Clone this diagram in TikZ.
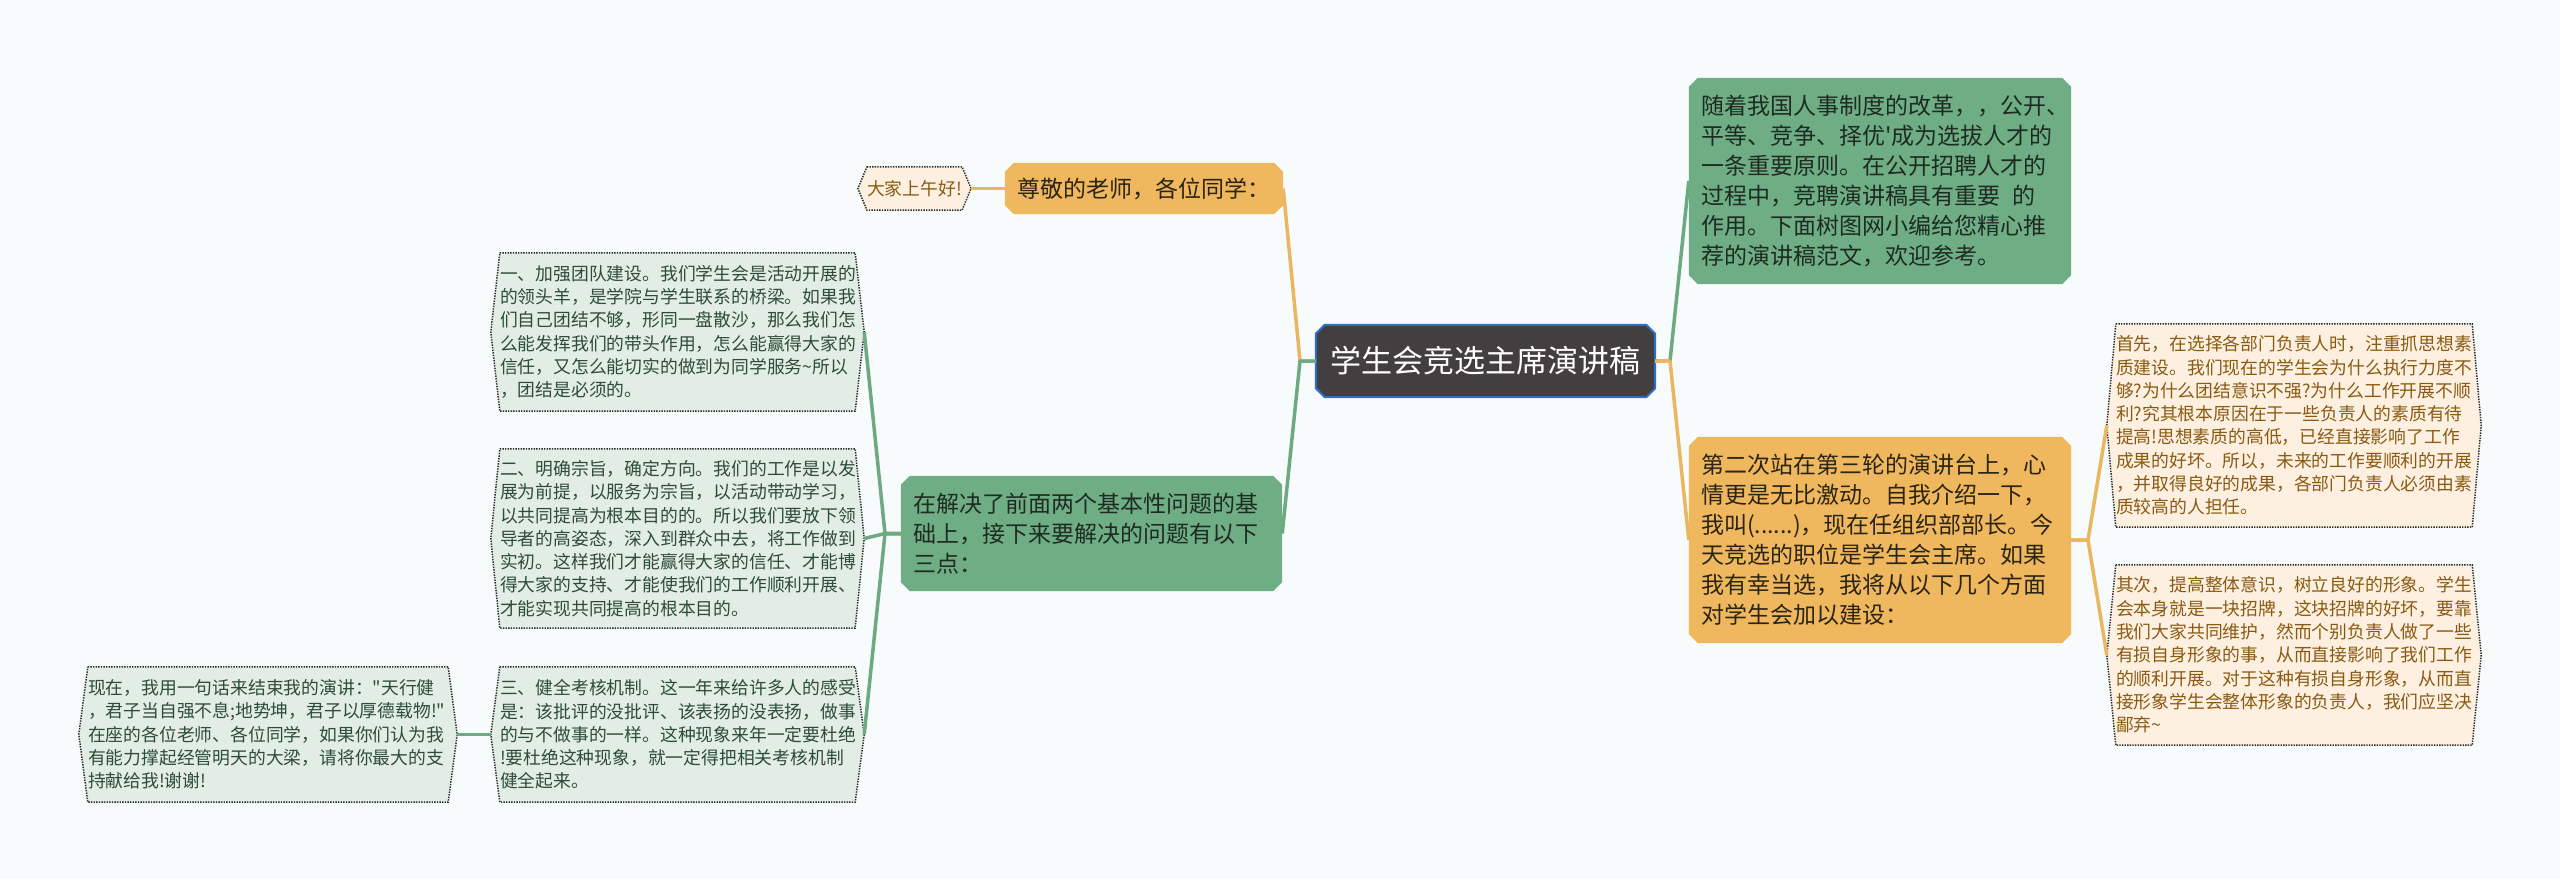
\documentclass[tikz,border=0pt]{standalone}
\usepackage{fontspec}
\newfontfamily\cjk{Noto Sans CJK SC}
\usetikzlibrary{calc}
\definecolor{bg}{HTML}{F7FBFC}
\definecolor{gfill}{HTML}{6FAE85}
\definecolor{gline}{HTML}{6DAA82}
\definecolor{ofill}{HTML}{EFB85F}
\definecolor{oline}{HTML}{EBB660}
\definecolor{cfill}{HTML}{433F41}
\definecolor{cborder}{HTML}{2F6CC2}
\definecolor{rleaf}{HTML}{FDF0E1}
\definecolor{rtext}{HTML}{8A5A12}
\definecolor{lleaf}{HTML}{E2EEE5}
\definecolor{ltext}{HTML}{2E4C37}
\definecolor{gtext}{HTML}{1E2B22}
\definecolor{otext}{HTML}{2B2413}
\definecolor{dotc}{HTML}{2A2A2A}
\pgfdeclarelayer{background}
\pgfsetlayers{background,main}
\newcommand\mmchamf[2]{%
  \begin{pgfonlayer}{background}
  \path[#2] ([xshift=9pt]#1.north west) -- ([xshift=-9pt]#1.north east) -- ([yshift=-9pt]#1.north east) -- ([yshift=9pt]#1.south east) -- ([xshift=-9pt]#1.south east) -- ([xshift=9pt]#1.south west) -- ([yshift=9pt]#1.south west) -- ([yshift=-9pt]#1.north west) -- cycle;
  \end{pgfonlayer}}
\newcommand\mmhexa[3]{%
  \begin{pgfonlayer}{background}
  \path[#3] (#1.north west) -- (#1.north east) -- ([xshift=#2]#1.east) -- (#1.south east) -- (#1.south west) -- ([xshift=-#2]#1.west) -- cycle;
  \end{pgfonlayer}}
\tikzset{
  box/.style={inner xsep=12pt, inner ysep=0pt, align=left, font=\cjk\fontsize{23}{30}\selectfont},
  leaf/.style={inner sep=0pt, align=left, font=\cjk\fontsize{17.8}{23.3}\selectfont},
  leafbd/.style={draw=dotc, line width=1.5pt, dash pattern=on 1.4pt off 1.2pt},
  gconn/.style={draw=gline, line width=3.5pt, line join=round},
  oconn/.style={draw=oline, line width=3.5pt, line join=round},
}
\begin{document}
\begin{tikzpicture}[x=1pt,y=-1pt]
\begin{pgfonlayer}{background}
\fill[bg] (0,0) rectangle (2560,879);
\end{pgfonlayer}
\useasboundingbox (0,0) rectangle (2560,879);

% central
\node[inner sep=0pt, minimum width=339pt, minimum height=72pt, text=white, font=\cjk\fontsize{31}{36}\selectfont] (c) at (1485.5,361) {学生会竞选主席演讲稿};
\mmchamf{c}{fill=cfill, draw=cborder, line width=2pt}

% right main
\node[box, text width=358pt, minimum height=206pt, text=gtext] (tr) at (1880,181) {随着我国人事制度的改革，，公开、\\平等、竞争、择优'成为选拔人才的\\一条重要原则。在公开招聘人才的\\过程中，竞聘演讲稿具有重要\hspace{12pt}的\\作用。下面树图网小编给您精心推\\荐的演讲稿范文，欢迎参考。};
\mmchamf{tr}{fill=gfill}

\node[box, text width=358pt, minimum height=206pt, text=otext] (or) at (1880,540) {第二次站在第三轮的演讲台上，心\\情更是无比激动。自我介绍一下，\\我叫(......)，现在任组织部部长。今\\天竞选的职位是学生会主席。如果\\我有幸当选，我将从以下几个方面\\对学生会加以建设：};
\mmchamf{or}{fill=ofill}

% right leaves
\node[leaf, text width=356pt, minimum height=203pt, text=rtext] (r1) at (2294,425.5) {首先，在选择各部门负责人时，注重抓思想素\\质建设。我们现在的学生会为什么执行力度不\\够?为什么团结意识不强?为什么工作开展不顺\\利?究其根本原因在于一些负责人的素质有待\\提高!思想素质的高低，已经直接影响了工作\\成果的好坏。所以，未来的工作要顺利的开展\\，并取得良好的成果，各部门负责人必须由素\\质较高的人担任。};
\mmhexa{r1}{9pt}{fill=rleaf, leafbd}

\node[leaf, text width=356pt, minimum height=180pt, text=rtext] (r2) at (2294,655) {其次，提高整体意识，树立良好的形象。学生\\会本身就是一块招牌，这块招牌的好坏，要靠\\我们大家共同维护，然而个别负责人做了一些\\有损自身形象的事，从而直接影响了我们工作\\的顺利开展。对于这种有损自身形象，从而直\\接形象学生会整体形象的负责人，我们应坚决\\鄙弃\textasciitilde};
\mmhexa{r2}{9pt}{fill=rleaf, leafbd}

% left main
\node[box, text width=254pt, minimum height=51pt, text=otext] (greet) at (1144,188.5) {尊敬的老师，各位同学：};
\mmchamf{greet}{fill=ofill}

\node[leaf, minimum width=93pt, minimum height=43pt, align=center, text=rtext] (hello) at (914.5,188.5) {大家上午好!};
\mmhexa{hello}{9pt}{fill=rleaf, leafbd}

\node[box, text width=357pt, minimum height=115pt, text=gtext] (gm) at (1091.5,533.5) {在解决了前面两个基本性问题的基\\础上，接下来要解决的问题有以下\\三点：};
\mmchamf{gm}{fill=gfill}

% left leaves
\node[leaf, text width=355pt, minimum height=158pt, text=ltext] (l1) at (677.5,332) {一、加强团队建设。我们学生会是活动开展的\\的领头羊，是学院与学生联系的桥梁。如果我\\们自己团结不够，形同一盘散沙，那么我们怎\\么能发挥我们的带头作用，怎么能赢得大家的\\信任，又怎么能切实的做到为同学服务\textasciitilde 所以\\，团结是必须的。};
\mmhexa{l1}{9pt}{fill=lleaf, leafbd}

\node[leaf, text width=355pt, minimum height=179pt, text=ltext] (l2) at (677.5,538.5) {二、明确宗旨，确定方向。我们的工作是以发\\展为前提，以服务为宗旨，以活动带动学习，\\以共同提高为根本目的的。所以我们要放下领\\导者的高姿态，深入到群众中去，将工作做到\\实初。这样我们才能赢得大家的信任、才能博\\得大家的支持、才能使我们的工作顺利开展、\\才能实现共同提高的根本目的。};
\mmhexa{l2}{9pt}{fill=lleaf, leafbd}

\node[leaf, text width=355pt, minimum height=135pt, text=ltext] (l3) at (677.5,734.5) {三、健全考核机制。这一年来给许多人的感受\\是：该批评的没批评、该表扬的没表扬，做事\\的与不做事的一样。这种现象来年一定要杜绝\\!要杜绝这种现象，就一定得把相关考核机制\\健全起来。};
\mmhexa{l3}{9pt}{fill=lleaf, leafbd}

\node[leaf, text width=360pt, minimum height=135pt, text=ltext] (fl) at (268,734.5) {现在，我用一句话来结束我的演讲："天行健\\，君子当自强不息;地势坤，君子以厚德载物!"\\在座的各位老师、各位同学，如果你们认为我\\有能力撑起经管明天的大梁，请将你最大的支\\持献给我!谢谢!};
\mmhexa{fl}{9pt}{fill=lleaf, leafbd}

% junctions
\coordinate (jl) at (1300,361);
\coordinate (jr) at (1670,361);
\coordinate (jo) at (2088,540);
\coordinate (jg) at (885,533.5);

% connectors
\draw[oconn] (c.west) -- (jl) -- (greet.east);
\draw[gconn] (c.west) -- (jl) -- (gm.east);
\draw[gconn] (c.east) -- (jr) -- (tr.west);
\draw[oconn] (c.east) -- (jr) -- (or.west);
\draw[oconn] (or.east) -- (jo) -- ([xshift=-9pt]r1.west);
\draw[oconn] (or.east) -- (jo) -- ([xshift=-9pt]r2.west);
\draw[oconn] (greet.west) -- ([xshift=9pt]hello.east);
\draw[gconn] (gm.west) -- (jg) -- ([xshift=9pt]l1.east);
\draw[gconn] (gm.west) -- (jg) -- ([xshift=9pt]l2.east);
\draw[gconn] (gm.west) -- (jg) -- ([xshift=9pt]l3.east);
\draw[gconn] ([xshift=-9pt]l3.west) -- ([xshift=9pt]fl.east);
\end{tikzpicture}
\end{document}
